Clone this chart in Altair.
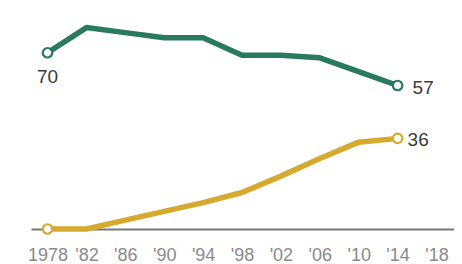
import altair as alt
import pandas as pd

years = [1978, 1982, 1986, 1990, 1994, 1998, 2002, 2006, 2010, 2014]
green = [70, 80, 78, 76, 76, 69, 69, 68, 62.5, 57]
yellow = [0, 0, 3.5, 7, 10.5, 14.5, 21, 28, 34.5, 36]
tick_years = [1978, 1982, 1986, 1990, 1994, 1998, 2002, 2006, 2010, 2014, 2018]
tick_labels = ["1978", "'82", "'86", "'90", "'94", "'98", "'02", "'06", "'10", "'14", "'18"]

GREEN = "#2a7a5e"
GOLD = "#d6aa2e"

df = pd.DataFrame({
    "year": years * 2,
    "value": green + yellow,
    "series": ["green"] * len(years) + ["gold"] * len(years),
})

label_expr = "{" + ",".join(f"'{y}': \"{l}\"" for y, l in zip(tick_years, tick_labels)) + "}[datum.value]"

x = alt.X("year:Q", scale=alt.Scale(domain=[1976.3, 2019.8], nice=False, zero=False),
          axis=alt.Axis(values=tick_years, labelExpr=label_expr, ticks=False, grid=False,
                        domainColor="#777777", domainWidth=2, labelColor="#8a8a8a",
                        labelFontSize=18, labelFont="Liberation Sans", labelPadding=17,
                        labelFlush=False, labelOverlap=False, title=None))
y = alt.Y("value:Q", scale=alt.Scale(domain=[0, 85], nice=False), axis=None)
color = alt.Color("series:N", scale=alt.Scale(domain=["green", "gold"], range=[GREEN, GOLD]), legend=None)

lines = alt.Chart(df).mark_line(strokeWidth=5.5, interpolate="linear", strokeJoin="round").encode(
    x=x, y=y, color=color, detail="series:N")

ends = df[(df["year"] == 1978) | (df["year"] == 2014)]
pts = alt.Chart(ends).mark_point(filled=True, fill="white", size=90, strokeWidth=2.2, opacity=1).encode(
    x="year:Q", y="value:Q", stroke=alt.Stroke("series:N", scale=alt.Scale(domain=["green", "gold"], range=[GREEN, GOLD]), legend=None))

txt_style = dict(font="Liberation Sans", fontSize=19, color="#3a3a3a")
lab70 = alt.Chart(df[(df["year"] == 1978) & (df["series"] == "green")]).mark_text(
    align="center", baseline="middle", dy=24, **txt_style).encode(x="year:Q", y="value:Q", text="value:Q")
lab57 = alt.Chart(df[(df["year"] == 2014) & (df["series"] == "green")]).mark_text(
    align="left", baseline="middle", dx=15, dy=3, **txt_style).encode(x="year:Q", y="value:Q", text="value:Q")
lab36 = alt.Chart(df[(df["year"] == 2014) & (df["series"] == "gold")]).mark_text(
    align="left", baseline="middle", dx=10, dy=2, **txt_style).encode(x="year:Q", y="value:Q", text="value:Q")

chart = alt.layer(lines, pts, lab70, lab57, lab36).properties(
    width=423, height=214,
    autosize=alt.AutoSizeParams(type="none"),
    padding={"left": 23, "top": 7, "right": 0, "bottom": 34},
).configure_view(stroke=None)

chart.save("out.html", embed_options={"renderer": "svg", "actions": False})
